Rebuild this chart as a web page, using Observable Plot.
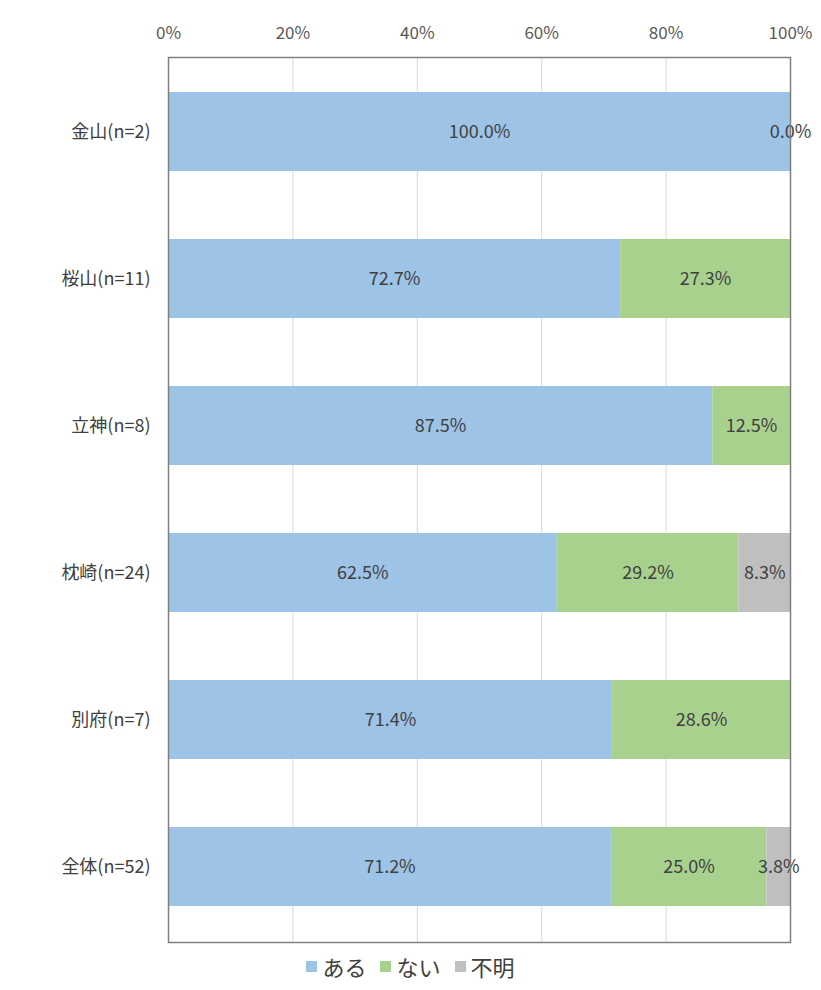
<!DOCTYPE html>
<html><head><meta charset="utf-8">
<script src="https://cdn.jsdelivr.net/npm/d3@7"></script>
<script src="https://cdn.jsdelivr.net/npm/@observablehq/plot@0.6"></script>
<style>
body{margin:0;background:#fff;font-family:"Noto Sans CJK JP","Noto Sans",sans-serif;}
#legend{width:821px;display:flex;justify-content:center;gap:14px;font-size:22px;color:#404040;margin-top:0px;}
#legend span{display:flex;align-items:center;}
#legend i{display:inline-block;width:11px;height:11px;margin-right:5px;}
</style></head><body>
<div id="chart"></div>
<div id="legend"></div>
<script>
const categories = ["金山(n=2)","桜山(n=11)","立神(n=8)","枕崎(n=24)","別府(n=7)","全体(n=52)"];
const series = ["ある","ない","不明"];
const colors = ["#9dc3e6","#a9d18e","#bfbfbf"];
const aru   = [100.0, 72.7, 87.5, 62.5, 71.4, 71.2];
const nai   = [0.0, 27.3, 12.5, 29.2, 28.6, 25.0];
const fumei = [0.0, 0.0, 0.0, 8.3, 0.0, 3.8];
const xTicks = [0,20,40,60,80,100];

const values = [aru, nai, fumei];
const data = [];
series.forEach((s, si) => categories.forEach((c, ci) => {
  const v = values[si][ci];
  data.push({cat: c, series: s, value: v,
    label: (si < 2 || v > 0) ? v.toFixed(1) + "%" : null});
}));

const chart = Plot.plot({
  width: 821, height: 950,
  marginTop: 57, marginBottom: 8, marginLeft: 168, marginRight: 31,
  style: {fontFamily: '"Noto Sans CJK JP","Noto Sans",sans-serif', background: "#fff"},
  x: {domain: [0,100], axis: null, label: null},
  y: {domain: categories, paddingInner: 0.46, paddingOuter: 0.23, axis: null, label: null},
  color: {domain: series, range: colors},
  marks: [
    Plot.ruleX(xTicks.slice(1,-1), {stroke: "#d9d9d9", strokeWidth: 1}),
    Plot.barX(data, Plot.stackX({x: "value", y: "cat", fill: "series", order: series})),
    Plot.text(data.filter(d => d.label), Plot.stackX({x: "value", y: "cat", z: "series", order: series, text: "label", fill: "#404040", fontSize: 18})),
    Plot.frame({stroke: "#7f7f7f", strokeWidth: 1.5}),
    Plot.axisX({anchor: "top", ticks: xTicks, tickSize: 0, tickPadding: 19, tickFormat: d => d + "%", fontSize: 17, color: "#595959", label: null}),
    Plot.axisY({anchor: "left", tickSize: 0, tickPadding: 18, fontSize: 18, color: "#404040", label: null})
  ]
});
document.getElementById("chart").appendChild(chart);

const lg = document.getElementById("legend");
series.forEach((s, i) => {
  const span = document.createElement("span");
  const sw = document.createElement("i");
  sw.style.background = colors[i];
  span.appendChild(sw);
  span.appendChild(document.createTextNode(s));
  lg.appendChild(span);
});
</script>
</body></html>
